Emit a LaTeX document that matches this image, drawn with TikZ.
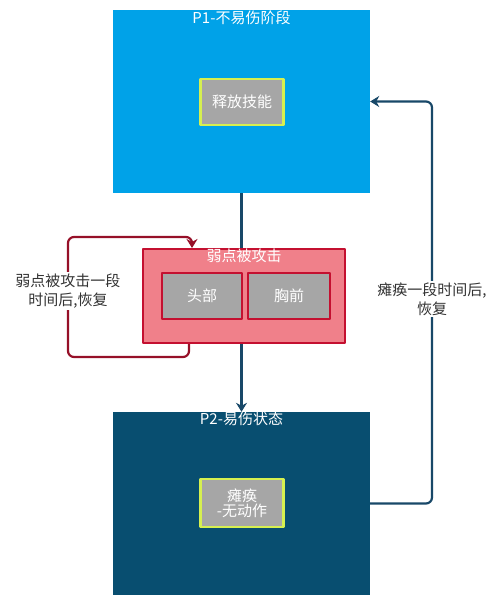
\documentclass[tikz,border=0pt]{standalone}
\usepackage{fontspec}
\usetikzlibrary{arrows.meta}
\setmainfont{Noto Sans CJK SC}
\definecolor{pblue}{RGB}{0,162,232}
\definecolor{pdark}{RGB}{8,78,112}
\definecolor{wfill}{RGB}{240,128,138}
\definecolor{wred}{RGB}{196,16,48}
\definecolor{sgray}{RGB}{166,166,166}
\definecolor{sgreen}{RGB}{214,240,80}
\definecolor{lnk}{RGB}{24,72,104}
\definecolor{lred}{RGB}{150,16,40}
\definecolor{txt}{RGB}{51,51,51}
\tikzset{
  phase/.style={minimum width=257pt,minimum height=183pt,inner sep=0pt},
  skill/.style={fill=sgray,draw=sgreen,line width=2.5pt,text=white,minimum width=83pt,minimum height=46pt,align=center,inner sep=0pt},
  part/.style={fill=sgray,draw=wred,line width=2pt,text=white,minimum height=46pt,inner sep=0pt},
  head/.style={text=white,inner sep=0pt},
  note/.style={text=txt,fill=white,align=center,inner sep=2pt}
}
\begin{document}
\begin{tikzpicture}[x=1pt,y=-1pt,>={Stealth[length=9pt,width=11pt]},line join=round,font=\fontsize{15}{19}\selectfont]
    \useasboundingbox (0,0) rectangle (500,611);
    \node[phase,fill=pblue] (p1) at (241.5,101.5) {};
    \node[head,anchor=north] (p1t) at (241.5,11) {P1-不易伤阶段};
    \node[skill] (cast) at (242,102) {释放技能};
    \node[phase,fill=pdark] (p2) at (241.5,503.5) {};
    \node[head,anchor=north] (p2t) at (241.5,412) {P2-易伤状态};
    \node[skill,minimum height=48pt] (stun) at (242,503) {瘫痪\\[-4pt]-无动作};
    \draw[->,lnk,line width=2.2pt] (p1.south)--(p2.north);
    \node[fill=wfill,draw=wred,line width=2pt,minimum width=202pt,minimum height=94pt,inner sep=0pt] (weak) at (244,296) {};
    \node[head,anchor=north] (weakt) at (244,249) {弱点被攻击};
    \node[part,minimum width=80pt] (hd) at (202,296) {头部};
    \node[part,minimum width=82pt] (ch) at (289,296) {胸前};
    \draw[->,lred,line width=2.2pt,rounded corners=6pt] ([xshift=47pt]weak.south west)--++(0,13)-|(68,237)-|([xshift=50pt]weak.north west);
    \draw[->,lnk,line width=2.2pt,rounded corners=6pt] (p2.east)-|(432,300)|-(p1.east);
    \node[note] (lnote) at (68,291) {弱点被攻击一段\\时间后,恢复};
    \node[note] (rnote) at (432,299) {瘫痪一段时间后,\\恢复};
\end{tikzpicture}
\end{document}
